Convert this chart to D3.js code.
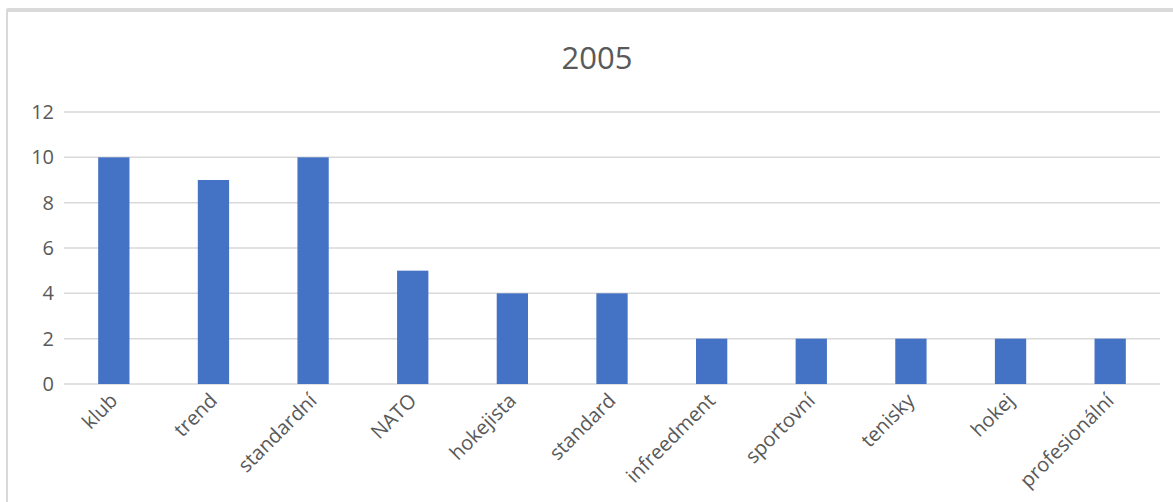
<!DOCTYPE html>
<html><head><meta charset="utf-8">
<script src="https://cdn.jsdelivr.net/npm/d3@7"></script>
<style>body{margin:0;background:#fff}svg{display:block}</style>
</head><body>
<script>
const categories = ["klub","trend","standardní","NATO","hokejista","standard","infreedment","sportovní","tenisky","hokej","profesionální"];
const values = [10,9,10,5,4,4,2,2,2,2,2];
const yTicks = [0,2,4,6,8,10,12];
const title = "2005";

(function(){
const W = 1173, H = 502;
const svg = d3.select("body").append("svg").attr("width", W).attr("height", H);
const font = "'Open Sans', 'Noto Sans', sans-serif";
const textColor = "#595959";

svg.append("rect").attr("x", 7).attr("y", 10).attr("width", W + 20).attr("height", H + 20)
  .attr("fill", "none").attr("stroke", "#d9d9d9").attr("stroke-width", 2);
svg.append("line").attr("x1", 7).attr("x2", W).attr("y1", 10).attr("y2", 10)
  .attr("stroke", "#d9d9d9").attr("stroke-width", 4);

const pL = 64, pR = 1160, pT = 112, pB = 384;
const x = d3.scaleBand().domain(categories).range([pL, pR]).padding(0);
const y = d3.scaleLinear().domain([0, 12]).range([pB, pT]);

svg.append("text").attr("x", (pL + pR) / 2 - 15).attr("y", 69)
  .attr("text-anchor", "middle").attr("font-family", font).attr("font-size", 31)
  .attr("fill", textColor).text(title);

svg.append("g").selectAll("line").data(yTicks).join("line")
  .attr("x1", pL).attr("x2", pR)
  .attr("y1", d => y(d)).attr("y2", d => y(d))
  .attr("stroke", "#d9d9d9").attr("stroke-width", 1.5);

const yAxis = d3.axisLeft(y).tickValues(yTicks).tickSize(0).tickPadding(10);
const gy = svg.append("g").attr("transform", `translate(${pL},0)`).call(yAxis);
gy.select(".domain").remove();
gy.selectAll("text").attr("font-family", font).attr("font-size", 20).attr("fill", textColor);

const bw = x.bandwidth() * 0.314;
svg.append("g").selectAll("rect").data(values).join("rect")
  .attr("x", (d, i) => x(categories[i]) + x.bandwidth() / 2 - bw / 2)
  .attr("width", bw)
  .attr("y", d => y(d))
  .attr("height", d => y(0) - y(d))
  .attr("fill", "#4472c4");

const xAxis = d3.axisBottom(x).tickSize(0).tickPadding(0);
const gx = svg.append("g").attr("transform", `translate(0,${pB})`).call(xAxis);
gx.select(".domain").remove();
gx.selectAll("text")
  .attr("font-family", font).attr("font-size", 20).attr("fill", textColor)
  .attr("text-anchor", "end").attr("dy", "0.35em")
  .attr("transform", "translate(0,13) rotate(-45)");
})();
</script>
</body></html>
